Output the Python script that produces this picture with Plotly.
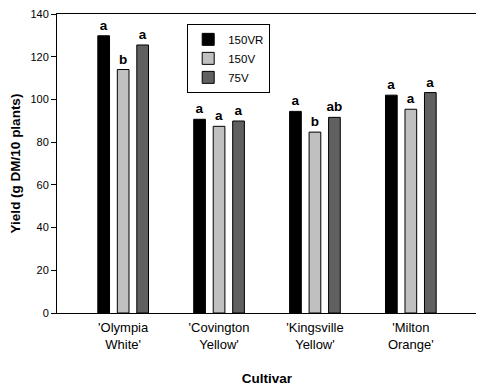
import plotly.graph_objects as go

cultivars = ["'Olympia<br>White'", "'Covington<br>Yellow'", "'Kingsville<br>Yellow'", "'Milton<br>Orange'"]
series_names = ["150VR", "150V", "75V"]
vals_150VR = [129.8, 90.7, 94.4, 102.0]
vals_150V = [114.0, 87.4, 84.7, 95.4]
vals_75V = [125.5, 89.9, 91.6, 103.2]
letters_150VR = ["a", "a", "a", "a"]
letters_150V = ["b", "a", "b", "a"]
letters_75V = ["a", "a", "ab", "a"]
colors = ["#000000", "#c0c0c0", "#606060"]

FONT = "Liberation Sans, Arial, sans-serif"
fig = go.Figure()
for name, vals, lets, col in zip(series_names, [vals_150VR, vals_150V, vals_75V],
                                 [letters_150VR, letters_150V, letters_75V], colors):
    fig.add_trace(go.Bar(
        x=list(range(len(cultivars))), y=vals, name=name,
        marker=dict(color=col, line=dict(color="black", width=1)),
        text=lets, texttemplate="<b>%{text}</b>", textposition="outside",
        constraintext="none",
        textfont=dict(family=FONT, size=13.5, color="black"), cliponaxis=False,
    ))

fig.update_layout(
    width=484, height=388,
    margin=dict(l=49, r=15, t=6, b=83, autoexpand=False),
    paper_bgcolor="white", plot_bgcolor="white",
    barmode="group", bargap=0.39, bargroupgap=0.4,
    font=dict(family=FONT, size=12, color="black"),
    showlegend=True,
    legend=dict(x=0.31, y=0.967, xanchor="left", yanchor="top",
                bordercolor="black", borderwidth=1, bgcolor="white",
                font=dict(size=11.5), tracegroupgap=0, itemwidth=30),
    xaxis=dict(
        range=[-0.69, 3.69], tickmode="array", tickvals=list(range(len(cultivars))),
        ticktext=cultivars, showline=True, linecolor="black", linewidth=1, mirror=True,
        ticks="", showgrid=False, zeroline=False, automargin=False,
        tickfont=dict(size=13), ticklabelstandoff=2,
        title=dict(text="<b>Cultivar</b>", font=dict(size=13.5), standoff=23),
    ),
    yaxis=dict(
        range=[0, 140], tickvals=[0, 20, 40, 60, 80, 100, 120, 140],
        showline=True, linecolor="black", linewidth=1, mirror=True, automargin=False,
        ticks="outside", ticklen=5, tickcolor="black", showgrid=False, zeroline=False,
        tickfont=dict(size=11), ticklabeloverflow="allow",
        title=dict(text="<b>Yield (g DM/10 plants)</b>", font=dict(size=13.5), standoff=14),
    ),
)
fig.write_html("out.html")
